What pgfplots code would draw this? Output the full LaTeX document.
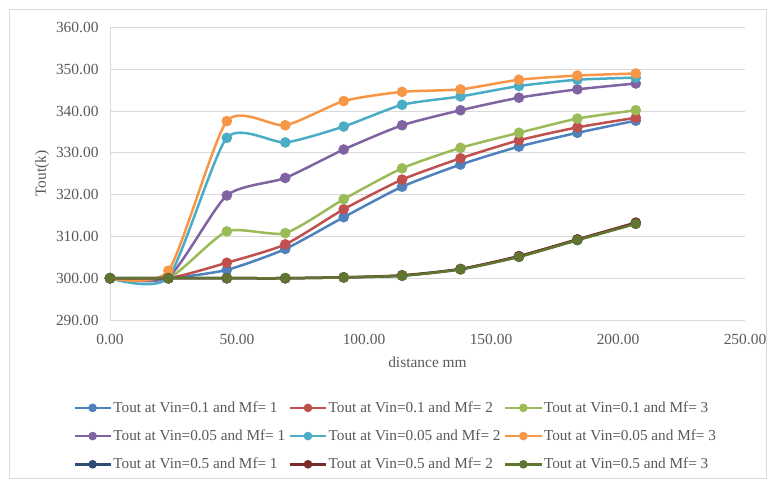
\documentclass[border=0pt]{standalone}
\usepackage{pgfplots}
\pgfplotsset{compat=1.18}
\usepackage{fontspec}
\setmainfont{Liberation Serif}
\definecolor{cA}{HTML}{4F81BD}
\definecolor{cB}{HTML}{C0504D}
\definecolor{cC}{HTML}{9BBB59}
\definecolor{cD}{HTML}{8064A2}
\definecolor{cE}{HTML}{4BACC6}
\definecolor{cF}{HTML}{F79646}
\definecolor{cG}{HTML}{2C4D75}
\definecolor{cH}{HTML}{772C2A}
\definecolor{cI}{HTML}{5F7530}
\definecolor{gridc}{HTML}{D9D9D9}
\definecolor{labc}{HTML}{595959}
\begin{document}
\begin{tikzpicture}
\begin{axis}[
  scale only axis, width=635bp, height=292.5bp,
  xmin=0, xmax=250, ymin=290, ymax=360,
  xtick={0,50,...,250}, ytick={290,300,...,360},
  ymajorgrids, grid style={draw=gridc, line width=0.75bp},
  axis x line*=bottom, axis y line*=left,
  axis line style={draw=gridc, line width=0.75bp, -},
  major tick length=0pt,
  tick label style={font=\fontsize{15.5}{17}\selectfont, text=labc},
  /pgf/number format/fixed, /pgf/number format/fixed zerofill,
  /pgf/number format/precision=2, /pgf/number format/assume math mode=true,
  yticklabel style={xshift=-8bp},
  xticklabel style={yshift=-11bp},
  xlabel={distance mm}, ylabel={Tout(k)},
  label style={font=\fontsize{15.5}{17}\selectfont, text=labc},
  xlabel style={at={(axis description cs:0.5,-0.146)}, anchor=center},
  ylabel style={at={(axis description cs:-0.107,0.5)}, anchor=center, rotate=0},
  every axis plot/.append style={smooth, tension=0.38, line width=2.5bp, mark=*, mark size=4bp, mark options={solid}},
  legend columns=3,
  legend cell align=left,
  legend style={draw=none, fill=none, inner sep=0pt, at={(-0.058,-0.272)}, anchor=north west,
    font=\fontsize{15.3}{16}\selectfont, text=labc, row sep=12bp,
    /tikz/every even column/.append style={column sep=2bp},
    nodes={inner xsep=1.5bp}},
  legend image code/.code={\draw[mark repeat=2,mark phase=2,mark size=3bp,#1] plot coordinates {(0bp,0bp) (18bp,0bp) (36bp,0bp)};},
]
\addplot[color=cA] coordinates {(0,300) (23,300) (46,302.0) (69,307.0) (92,314.6) (115,321.9) (138,327.2) (161,331.5) (184,334.8) (207,337.7)};
\addlegendentry{Tout at Vin=0.1 and Mf= 1}
\addplot[color=cB] coordinates {(0,300) (23,300) (46,303.7) (69,308.1) (92,316.5) (115,323.6) (138,328.7) (161,333.0) (184,336.1) (207,338.4)};
\addlegendentry{Tout at Vin=0.1 and Mf= 2}
\addplot[color=cC] coordinates {(0,300) (23,300) (46,311.2) (69,310.8) (92,318.9) (115,326.3) (138,331.2) (161,334.8) (184,338.2) (207,340.2)};
\addlegendentry{Tout at Vin=0.1 and Mf= 3}
\addplot[color=cD] coordinates {(0,300) (23,300.3) (46,319.8) (69,324.0) (92,330.8) (115,336.6) (138,340.2) (161,343.2) (184,345.2) (207,346.6)};
\addlegendentry{Tout at Vin=0.05 and Mf= 1}
\addplot[color=cE] coordinates {(0,300) (23,300.2) (46,333.6) (69,332.5) (92,336.3) (115,341.5) (138,343.5) (161,346.0) (184,347.5) (207,348.0)};
\addlegendentry{Tout at Vin=0.05 and Mf= 2}
\addplot[color=cF] coordinates {(0,300) (23,301.8) (46,337.6) (69,336.6) (92,342.4) (115,344.6) (138,345.2) (161,347.5) (184,348.5) (207,349.0)};
\addlegendentry{Tout at Vin=0.05 and Mf= 3}
\addplot[color=cG] coordinates {(0,300) (23,300) (46,300) (69,300) (92,300.2) (115,300.6) (138,302.2) (161,305.2) (184,309.2) (207,313.2)};
\addlegendentry{Tout at Vin=0.5 and Mf= 1}
\addplot[color=cH] coordinates {(0,300) (23,300) (46,300) (69,300) (92,300.2) (115,300.7) (138,302.2) (161,305.3) (184,309.3) (207,313.3)};
\addlegendentry{Tout at Vin=0.5 and Mf= 2}
\addplot[color=cI] coordinates {(0,300) (23,300) (46,300) (69,300) (92,300.2) (115,300.6) (138,302.1) (161,305.1) (184,309.1) (207,313.0)};
\addlegendentry{Tout at Vin=0.5 and Mf= 3}
\end{axis}
\draw[gridc, line width=0.75bp] (-101bp,-158bp) rectangle (656bp,311bp);
\pgfresetboundingbox
\path[use as bounding box] (-110bp,-160bp) rectangle (659bp,320bp);
\end{tikzpicture}
\end{document}
